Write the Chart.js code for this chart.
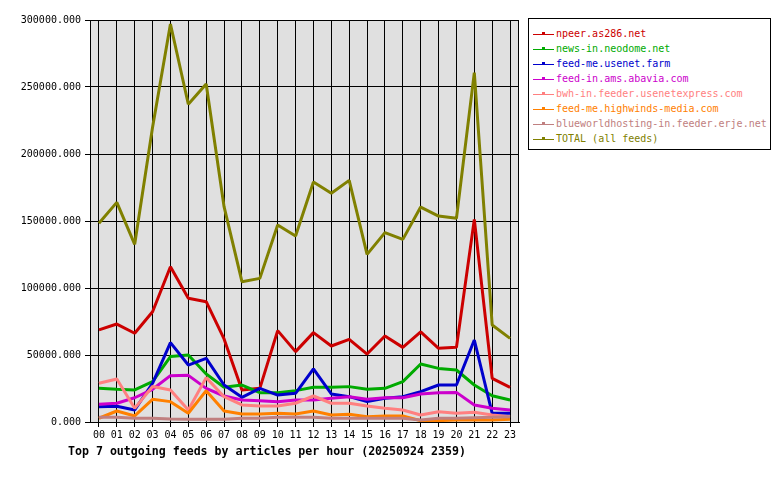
<!DOCTYPE html>
<html><head><meta charset="utf-8">
<script src="https://cdn.jsdelivr.net/npm/chart.js@4"></script>
<style>
html,body{margin:0;padding:0;background:#fff;}
#wrap{position:relative;width:780px;height:480px;}
#title{position:absolute;left:68px;top:444px;font:bold 11.6px "DejaVu Sans Mono",monospace;color:#000;white-space:pre;}
#legend{position:absolute;left:528px;top:18px;width:241px;height:130px;border:1px solid #000;background:#fff;font:10px "DejaVu Sans Mono",monospace;}
.item{position:absolute;left:0;height:15px;white-space:pre;}
.sample{position:absolute;left:4px;top:7px;width:21px;height:1px;}
.mark{position:absolute;left:9px;top:-2px;width:3px;height:3px;}
.lab{position:absolute;left:27px;top:1px;}
</style></head>
<body><div id="wrap"><canvas id="c" width="780" height="480"></canvas>
<div id="legend"></div>
<div id="title">Top 7 outgoing feeds by articles per hour (20250924 2359)</div></div>
<script>
const hours = ["00","01","02","03","04","05","06","07","08","09","10","11","12","13","14","15","16","17","18","19","20","21","22","23"];
const seriesNames = ["npeer.as286.net","news-in.neodome.net","feed-me.usenet.farm","feed-in.ams.abavia.com","bwh-in.feeder.usenetexpress.com","feed-me.highwinds-media.com","blueworldhosting-in.feeder.erje.net","TOTAL (all feeds)"];
const npeer = [68700,73100,66200,82300,115900,92300,89800,62000,23900,25100,68200,52500,66700,56700,61700,50700,64200,55700,67200,55000,55700,151200,32600,25900];
const neodome = [25100,24400,23900,30100,48800,50000,35800,25900,27600,21900,21900,23400,25900,25900,26400,24400,25100,30100,43300,40000,38800,27600,19600,16400];
const usenetFarm = [11400,11700,9000,28900,59200,42500,47500,27600,18400,25100,20100,21400,39600,20900,18900,15200,17700,18900,22600,27600,27600,61200,6500,6500];
const abavia = [13200,14000,18100,24400,34600,34800,25100,19400,16400,15900,15200,16400,16400,17700,18900,16900,18100,18100,20900,21900,22100,12700,10200,9000];
const usenetexpress = [28900,32100,10200,26500,23900,9000,33100,18900,12700,11900,11900,14000,19400,14000,14000,11900,10200,9000,5200,7700,6500,7200,5200,4000];
const highwinds = [2800,8200,4500,16900,15200,6500,23400,8200,6000,6000,6500,6000,8200,5200,5700,4000,4500,4500,1000,1000,1500,1500,1500,2000];
const erje = [3500,3500,2800,2800,2300,2000,2000,2000,2800,2800,3500,3500,3500,2800,2800,2800,2800,2800,1500,2800,2800,3200,3500,4000];
const total = [148300,163900,132600,220000,297000,237100,252200,160700,104700,107200,147000,138800,179100,170700,180300,125100,141300,136300,160400,153700,152000,260700,72400,62400];
const yTicks = [0,50000,100000,150000,200000,250000,300000];
const colors = ["#cc0000","#00aa00","#0000cc","#cc00cc","#ff8080","#ff8000","#c08080","#808000"];
const values = [npeer,neodome,usenetFarm,abavia,usenetexpress,highwinds,erje,total];

const FONT = "DejaVu Sans Mono";
Chart.defaults.font.family = FONT;
Chart.defaults.font.size = 10;
Chart.defaults.color = "#000";

const bgPlugin = {
  id:"bg",
  beforeDraw(chart){
    const a = chart.chartArea, ctx = chart.ctx;
    ctx.save(); ctx.fillStyle="#e0e0e0"; ctx.fillRect(a.left,a.top,a.right-a.left,a.bottom-a.top); ctx.restore();
  },
  afterDraw(chart){
    const a = chart.chartArea, ctx = chart.ctx;
    ctx.save(); ctx.strokeStyle="#000"; ctx.lineWidth=1;
    ctx.strokeRect(Math.round(a.left)+0.5,Math.round(a.top)+0.5,Math.round(a.right-a.left)-1,Math.round(a.bottom-a.top));
    ctx.restore();
  }
};

const datasets = seriesNames.map((n,i)=>({
  label:n, data:values[i], borderColor:colors[i], backgroundColor:colors[i],
  borderWidth:3, pointRadius:0, tension:0, fill:false, order:seriesNames.length-i,
  borderJoinStyle:"bevel"
}));

const chart = new Chart(document.getElementById("c"),{
  type:"line",
  data:{labels:hours, datasets},
  plugins:[bgPlugin],
  options:{
    responsive:false, animation:false,
    layout:{padding:{left:0,top:20,right:261,bottom:0}},
    plugins:{legend:{display:false},tooltip:{enabled:false},title:{display:false}},
    scales:{
      x:{
        offset:true,
        grid:{color:"#000",lineWidth:1,offset:false,drawTicks:true,tickLength:5,tickColor:"#000"},
        border:{color:"#000",width:1},
        ticks:{autoSkip:false,maxRotation:0,padding:2,font:{size:10,family:FONT},color:"#000"},
        afterFit(s){s.height=58;}
      },
      y:{
        min:0,max:300000,
        afterBuildTicks(s){s.ticks = yTicks.map(v=>({value:v}));},
        grid:{color:"#000",lineWidth:1,drawTicks:true,tickLength:5,tickColor:"#000"},
        border:{color:"#000",width:1},
        ticks:{padding:4,font:{size:10,family:FONT},color:"#000",callback:v=>Number(v).toFixed(3)},
        afterFit(s){s.width=90;}
      }
    }
  }
});

const leg = document.getElementById("legend");
chart.data.datasets.forEach((d,i)=>{
  const it = document.createElement("div");
  it.className="item"; it.style.top=(8+i*15)+"px"; it.style.width="240px";
  const s = document.createElement("div"); s.className="sample"; s.style.background=d.borderColor;
  const m = document.createElement("div"); m.className="mark"; m.style.background=d.borderColor; s.appendChild(m);
  const l = document.createElement("div"); l.className="lab"; l.style.color=d.borderColor; l.textContent=d.label;
  it.appendChild(s); it.appendChild(l); leg.appendChild(it);
});
</script></body></html>
